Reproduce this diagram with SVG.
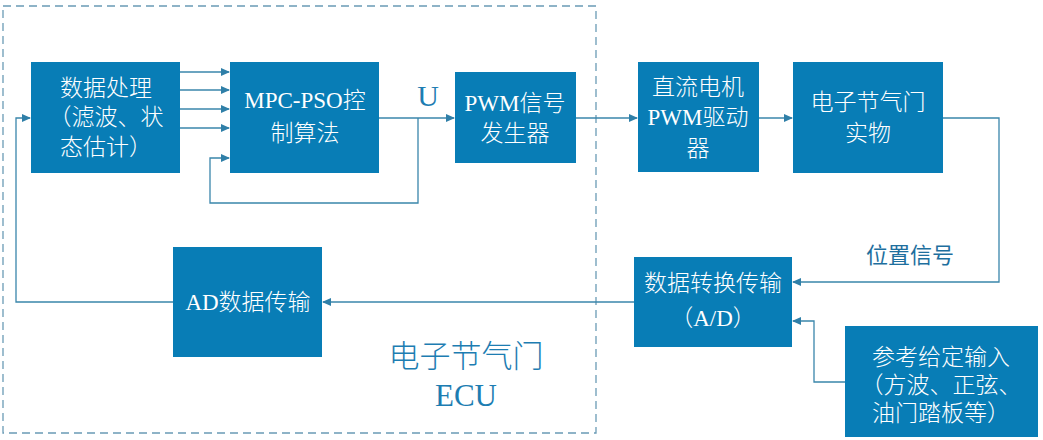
<svg xmlns="http://www.w3.org/2000/svg" width="1043" height="440" viewBox="0 0 1043 440">
<style>
.box{fill:#087DB6;}
.bt{font-family:"Liberation Serif","Noto Sans CJK SC",serif;font-size:23px;font-weight:300;fill:#ffffff;text-anchor:middle;}
.ln{fill:none;stroke:#3A86AB;stroke-width:1.3;}
.lbl{font-family:"Liberation Serif","Noto Sans CJK SC",serif;font-weight:300;fill:#1D7DB2;text-anchor:middle;}
</style>
<defs>
<marker id="ah" markerWidth="9" markerHeight="8" refX="8" refY="4" orient="auto" markerUnits="userSpaceOnUse">
<path d="M0,0 L9,4 L0,8 Z" fill="#2F7FA8"/>
</marker>
</defs>
<rect x="3" y="6" width="593" height="427" fill="none" stroke="#6A9BB5" stroke-width="1.3" stroke-dasharray="8,5"/>
<g id="connectors">
<line class="ln" x1="180" y1="72" x2="229" y2="72" marker-end="url(#ah)"/>
<line class="ln" x1="180" y1="90" x2="229" y2="90" marker-end="url(#ah)"/>
<line class="ln" x1="180" y1="109" x2="229" y2="109" marker-end="url(#ah)"/>
<line class="ln" x1="180" y1="128" x2="229" y2="128" marker-end="url(#ah)"/>
<line class="ln" x1="379" y1="118" x2="454" y2="118" marker-end="url(#ah)"/>
<polyline class="ln" points="418,118 418,203 210,203 210,158 229,158" marker-end="url(#ah)"/>
<line class="ln" x1="576" y1="118" x2="637" y2="118" marker-end="url(#ah)"/>
<line class="ln" x1="759" y1="118" x2="792" y2="118" marker-end="url(#ah)"/>
<polyline class="ln" points="943,118 999,118 999,282 793,282" marker-end="url(#ah)"/>
<polyline class="ln" points="845,382 814,382 814,321 793,321" marker-end="url(#ah)"/>
<line class="ln" x1="634" y1="302" x2="323" y2="302" marker-end="url(#ah)"/>
<polyline class="ln" points="173,302 16,302 16,118 30,118" marker-end="url(#ah)"/>
</g>
<g id="n_data">
<rect class="box" x="31" y="62" width="149" height="111"/>
<text class="bt" x="106" y="96">数据处理</text>
<text class="bt" x="106" y="125">（滤波、状</text>
<text class="bt" x="106" y="155">态估计）</text>
</g>
<g id="n_mpc">
<rect class="box" x="230" y="62" width="149" height="111"/>
<text class="bt" x="305" y="108">MPC-PSO控</text>
<text class="bt" x="305" y="141">制算法</text>
</g>
<g id="n_u">
<text class="lbl" x="428" y="106" font-size="30">U</text>
</g>
<g id="n_pwm">
<rect class="box" x="455" y="72" width="121" height="91"/>
<text class="bt" x="515" y="111">PWM信号</text>
<text class="bt" x="515" y="141">发生器</text>
</g>
<g id="n_dc">
<rect class="box" x="638" y="62" width="121" height="110"/>
<text class="bt" x="698" y="95">直流电机</text>
<text class="bt" x="698" y="125">PWM驱动</text>
<text class="bt" x="698" y="156">器</text>
</g>
<g id="n_throttle">
<rect class="box" x="793" y="62" width="150" height="111"/>
<text class="bt" x="868" y="110">电子节气门</text>
<text class="bt" x="868" y="141">实物</text>
</g>
<g id="n_pos">
<text x="910" y="263" font-family="'Noto Sans CJK SC',sans-serif" font-size="22" fill="#1E6F9E" text-anchor="middle">位置信号</text>
</g>
<g id="n_conv">
<rect class="box" x="634" y="257" width="158" height="90"/>
<text class="bt" x="713" y="291">数据转换传输</text>
<text class="bt" x="713" y="326">（A/D）</text>
</g>
<g id="n_ref">
<rect class="box" x="845" y="326" width="193" height="111"/>
<text class="bt" x="941" y="365">参考给定输入</text>
<text class="bt" x="941" y="393">（方波、正弦、</text>
<text class="bt" x="941" y="421">油门踏板等）</text>
</g>
<g id="n_ad">
<rect class="box" x="173" y="247" width="149" height="110"/>
<text class="bt" x="248" y="310">AD数据传输</text>
</g>
<g id="n_ecu">
<text class="lbl" x="466" y="367" font-size="31">电子节气门</text>
<text class="lbl" x="466" y="406" font-size="31">ECU</text>
</g>
</svg>
